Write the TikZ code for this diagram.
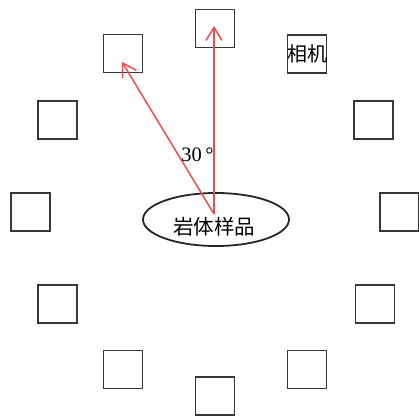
\documentclass[tikz,border=0pt]{standalone}
\usepackage{fontspec}
\setmainfont{Liberation Serif}
\newfontfamily\cjk{Noto Sans CJK SC}
\usetikzlibrary{shapes.geometric,arrows.meta}
\definecolor{boxgray}{RGB}{55,55,55}
\definecolor{arrowred}{RGB}{238,78,78}
\tikzset{
  cambox/.style={draw=boxgray, line width=1.6pt, minimum width=39pt, minimum height=38pt, inner sep=0pt, fill=white},
  redarrow/.style={draw=arrowred, line width=1.5pt, -{Straight Barb[length=13pt,width=16pt]}},
  bigtext/.style={font=\cjk\fontsize{19pt}{21pt}\selectfont, inner sep=0pt}
}
\begin{document}
\begin{tikzpicture}[x=1pt,y=-1pt]
\clip (0,0) rectangle (419,416);
\fill[white] (0,0) rectangle (419,416);
% cameras
\node[cambox] (c1) at (215,28.5) {};
\node[cambox] (c2) at (307,54) {};
\node[cambox] (c3) at (373.5,120) {};
\node[cambox] (c4) at (399.5,212) {};
\node[cambox] (c5) at (375,304) {};
\node[cambox] (c6) at (307,369.5) {};
\node[cambox] (c7) at (215,396) {};
\node[cambox] (c8) at (123,369.5) {};
\node[cambox] (c9) at (57.5,304) {};
\node[cambox] (c10) at (30.5,212) {};
\node[cambox] (c11) at (57.5,120) {};
\node[cambox] (c12) at (123,53.5) {};
\node[bigtext, font=\cjk\fontsize{20pt}{22pt}\selectfont] (camlabel) at (307.5,54) {相机};
% sample
\node[ellipse, draw=black!85, line width=1.8pt, minimum width=146pt, minimum height=53pt, inner sep=0pt] (sample) at (216,219.5) {};
\node[bigtext, font=\cjk\fontsize{20.5pt}{22pt}\selectfont] (samplelabel) at (214,227) {岩体样品};
% rays
\coordinate (o) at (214,214);
\coordinate (t1) at (214,26);
\coordinate (t2) at (122,62);
\draw[redarrow] (o) -- (t1);
\draw[redarrow] (o) -- (t2);
\node[font=\fontsize{20.5pt}{22pt}\selectfont, inner sep=0pt] (ang) at (197.5,155) {30\,°};
\end{tikzpicture}
\end{document}
